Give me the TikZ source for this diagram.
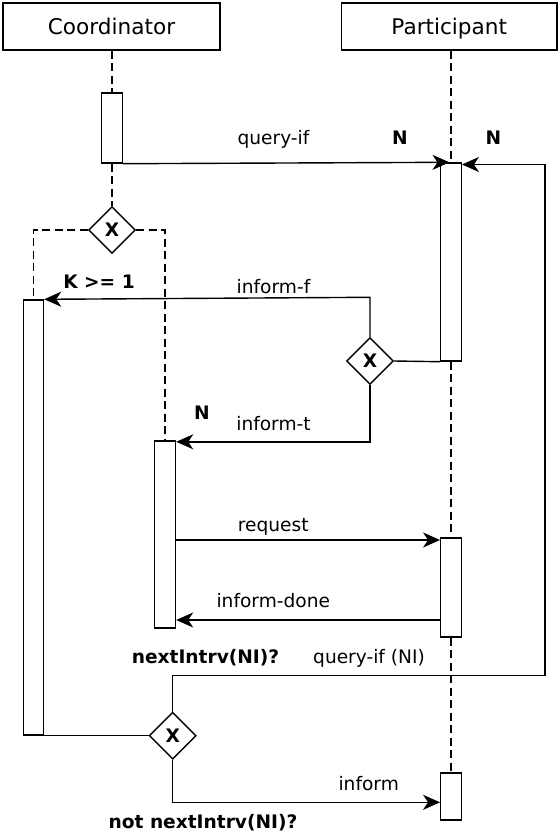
\documentclass[tikz,border=0pt]{standalone}
\usepackage{fontspec}
\setmainfont{DejaVu Sans}
\usetikzlibrary{shapes.geometric,arrows.meta}

\begin{document}
\begin{tikzpicture}[x=1pt,y=-1pt,line width=1.4pt,
  lbl/.style={font=\fontsize{18.6}{22}\selectfont,inner sep=0pt,anchor=base},
  blbl/.style={lbl,font=\fontsize{18.6}{22}\selectfont\bfseries},
  hdr/.style={draw,font=\fontsize{21.6}{25}\selectfont,inner sep=0pt,
    minimum height=47pt,text height=16pt,text depth=0pt},
  act/.style={draw,fill=white,inner sep=0pt,minimum width=20.5pt},
  gate/.style={draw,diamond,fill=white,inner sep=0pt,aspect=1,
    minimum width=47pt,minimum height=47pt,
    font=\fontsize{18.6}{22}\selectfont\bfseries},
  life/.style={dash pattern=on 8pt off 4.5pt},
  msg/.style={-{Stealth[length=17pt,width=15pt,inset=5pt]}},
]
\useasboundingbox (0,0) rectangle (558,835);

% lifeline heads
\node[hdr,minimum width=217pt] (coord) at (111.5,26.5) {Coordinator};
\node[hdr,minimum width=215.5pt] (part) at (449.25,26.5) {Participant};

% activation bars
\node[act,minimum height=70pt] (actA) at (112,128) {};
\node[act,minimum height=198pt] (actP1) at (451,262) {};
\node[act,minimum width=20pt,minimum height=435pt] (actL) at (33.5,517.5) {};
\node[act,minimum width=21pt,minimum height=187pt] (actM) at (165,534.5) {};
\node[act,minimum height=99pt] (actP2) at (451,587.5) {};
\node[act,minimum height=47pt] (actP3) at (451,796.5) {};

% XOR gates
\node[gate] (d1) at (112,230) {X};
\node[gate] (d2) at (370,361) {X};
\node[gate] (d3) at (172.7,735.7) {X};

% lifelines
\draw[life] (actA.north |- coord.south) -- (actA.north);
\draw[life] (actA.south) -- (d1.north);
\draw[life] (d1.west) -| (actL.north);
\draw[life] (d1.east) -| (actM.north);
\draw[life] (actP1.north |- part.south) -- (actP1.north);
\draw[life] (actP1.south) -- (actP2.north);
\draw[life] (actP2.south) -- (actP3.north);

% helper coordinates
\coordinate (loopR) at (545,675.7);
\coordinate (loopT) at (545,164.5);
\coordinate (fTop) at (370,297.3);
\coordinate (reqY) at (0,540);
\coordinate (doneY) at (0,620);
\coordinate (infY) at (0,802.3);

% messages
\draw[msg] (actA.south east) -- ([xshift=-1.5pt]actP1.north);
\draw[msg] (d3.north) |- (loopR) -- (loopT) -- (loopT -| actP1.east);
\draw[msg] (d2.north) -- (fTop) -- (actL.north east);
\draw[msg] (d2.south) |- ([yshift=-1.5pt]actM.north east);
\draw (d2.east) -- (actP1.south west);
\draw[msg] (actM.east |- reqY) -- (actP2.west |- reqY);
\draw[msg] (actP2.west |- doneY) -- (actM.east |- doneY);
\draw (d3.west) -- (actL.south east);
\draw[msg] (d3.south) |- (actP3.west |- infY);

% labels
\node[lbl] (lq) at (273.5,144) {query-if};
\node[blbl] (n1) at (400,144) {N};
\node[blbl] (n2) at (493.5,144) {N};
\node[blbl] (k1) at (99,288.3) {K >= 1};
\node[lbl] (lf) at (273.5,293) {inform-f};
\node[blbl] (n3) at (201.8,419.3) {N};
\node[lbl] (lt) at (273.5,430.7) {inform-t};
\node[lbl] (lr) at (273.3,531.5) {request};
\node[lbl] (ld) at (273.3,607.7) {inform-done};
\node[blbl] (nx) at (205.5,663.5) {nextIntrv(NI)?};
\node[lbl] (lq2) at (369,663.5) {query-if (NI)};
\node[lbl] (li) at (368.7,790) {inform};
\node[blbl] (nn) at (203,828) {not nextIntrv(NI)?};
\end{tikzpicture}
\end{document}
